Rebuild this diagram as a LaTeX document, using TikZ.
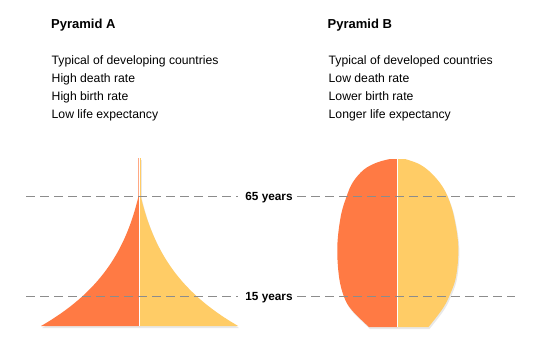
\documentclass[tikz,border=0pt]{standalone}
\usepackage{fontspec}
\setmainfont{Liberation Sans}
\definecolor{orangeP}{RGB}{255,122,68}
\definecolor{yellowP}{RGB}{255,204,102}
\definecolor{dashgray}{RGB}{140,140,140}
\begin{document}
\begin{tikzpicture}[x=1pt,y=-1pt,
  txt/.style={anchor=base west,inner sep=0pt,font=\fontsize{12.2}{14}\selectfont},
  ttl/.style={anchor=base west,inner sep=0pt,font=\fontsize{13}{15}\selectfont\bfseries},
  agelab/.style={anchor=base,inner sep=0pt,font=\fontsize{11.8}{13}\selectfont\bfseries},
  ageline/.style={draw=dashgray,line width=0.9pt,dash pattern=on 9pt off 5pt},
  shadowfill/.style={fill=black,opacity=0.09},
  divider/.style={draw=white,line width=0.8pt}]
\useasboundingbox (0,0) rectangle (545,361);
\fill[white] (0,0) rectangle (545,361);

% ---- texts ----
\node[ttl] (tA) at (51,29) {Pyramid A};
\node[txt] (a1) at (51.5,64.3) {Typical of developing countries};
\node[txt] (a2) at (51.5,82.3) {High death rate};
\node[txt] (a3) at (51.5,100.3) {High birth rate};
\node[txt] (a4) at (51.5,118.3) {Low life expectancy};
\node[ttl] (tB) at (327.5,29) {Pyramid B};
\node[txt] (b1) at (328.5,64.3) {Typical of developed countries};
\node[txt] (b2) at (328.5,82.3) {Low death rate};
\node[txt] (b3) at (328.5,100.3) {Lower birth rate};
\node[txt] (b4) at (328.5,118.3) {Longer life expectancy};

% ---- pyramid A shadow ----
\begin{scope}[shift={(1,2)}]
\fill[shadowfill] (138.3,158) -- plot[domain=0:129,samples=60] ({138.3-15.5*(exp(\x/65)-1)},{197+\x})
  -- plot[domain=129:0,samples=60] ({140.9+15.5*(exp(\x/65)-1)},{197+\x}) -- (140.9,158) -- cycle;
\end{scope}
% ---- pyramid A ----
\fill[orangeP] (139.6,158) -- (138.3,158) -- plot[domain=0:129,samples=60] ({138.3-15.5*(exp(\x/65)-1)},{197+\x}) -- (139.6,326) -- cycle;
\fill[yellowP] (139.6,158) -- (140.9,158) -- plot[domain=0:129,samples=60] ({140.9+15.5*(exp(\x/65)-1)},{197+\x}) -- (139.6,326) -- cycle;
\draw[divider] (139.6,158) -- (139.6,326);

% ---- pyramid B shadow ----
\begin{scope}[shift={(1,2)}]
\fill[shadowfill] plot[smooth,tension=0.6] coordinates {(390,159) (377,162.5) (364,169.5) (353,182) (346.5,196.7) (340.7,216.7) (337.3,246.7) (339,276.7) (344,296.7) (351.7,310) (369,327)}
  -- plot[smooth,tension=0.6] coordinates {(428.5,327) (441.7,310) (449,296.7) (456,276.7) (458.3,246.7) (454,216.7) (447.7,196.7) (440,183) (429,171) (418,163.5) (405,159)} -- cycle;
\end{scope}
% ---- pyramid B ----
\fill[orangeP] (397.5,159) -- plot[smooth,tension=0.6] coordinates {(390,159) (377,162.5) (364,169.5) (353,182) (346.5,196.7) (340.7,216.7) (337.3,246.7) (339,276.7) (344,296.7) (351.7,310) (369,327)} -- (397.5,327) -- cycle;
\fill[yellowP] (397.5,159) -- plot[smooth,tension=0.6] coordinates {(405,159) (418,163.5) (429,171) (440,183) (447.7,196.7) (454,216.7) (458.3,246.7) (456,276.7) (449,296.7) (441.7,310) (428.5,327)} -- (397.5,327) -- cycle;
\draw[divider] (397.5,159) -- (397.5,327);

% ---- age lines ----
\node[agelab] (l65) at (269,200.2) {65 years};
\node[agelab] (l15) at (269,300.2) {15 years};
\coordinate (l65a) at (26,196.5);
\coordinate (l65b) at (238,196.5);
\coordinate (l65c) at (297,196.5);
\coordinate (l65d) at (515,196.5);
\coordinate (l15a) at (26,296.5);
\coordinate (l15b) at (238,296.5);
\coordinate (l15c) at (297,296.5);
\coordinate (l15d) at (515,296.5);
\draw[ageline] (l65a) -- (l65b);
\draw[ageline] (l65c) -- (l65d);
\draw[ageline] (l15a) -- (l15b);
\draw[ageline] (l15c) -- (l15d);
\end{tikzpicture}
\end{document}
